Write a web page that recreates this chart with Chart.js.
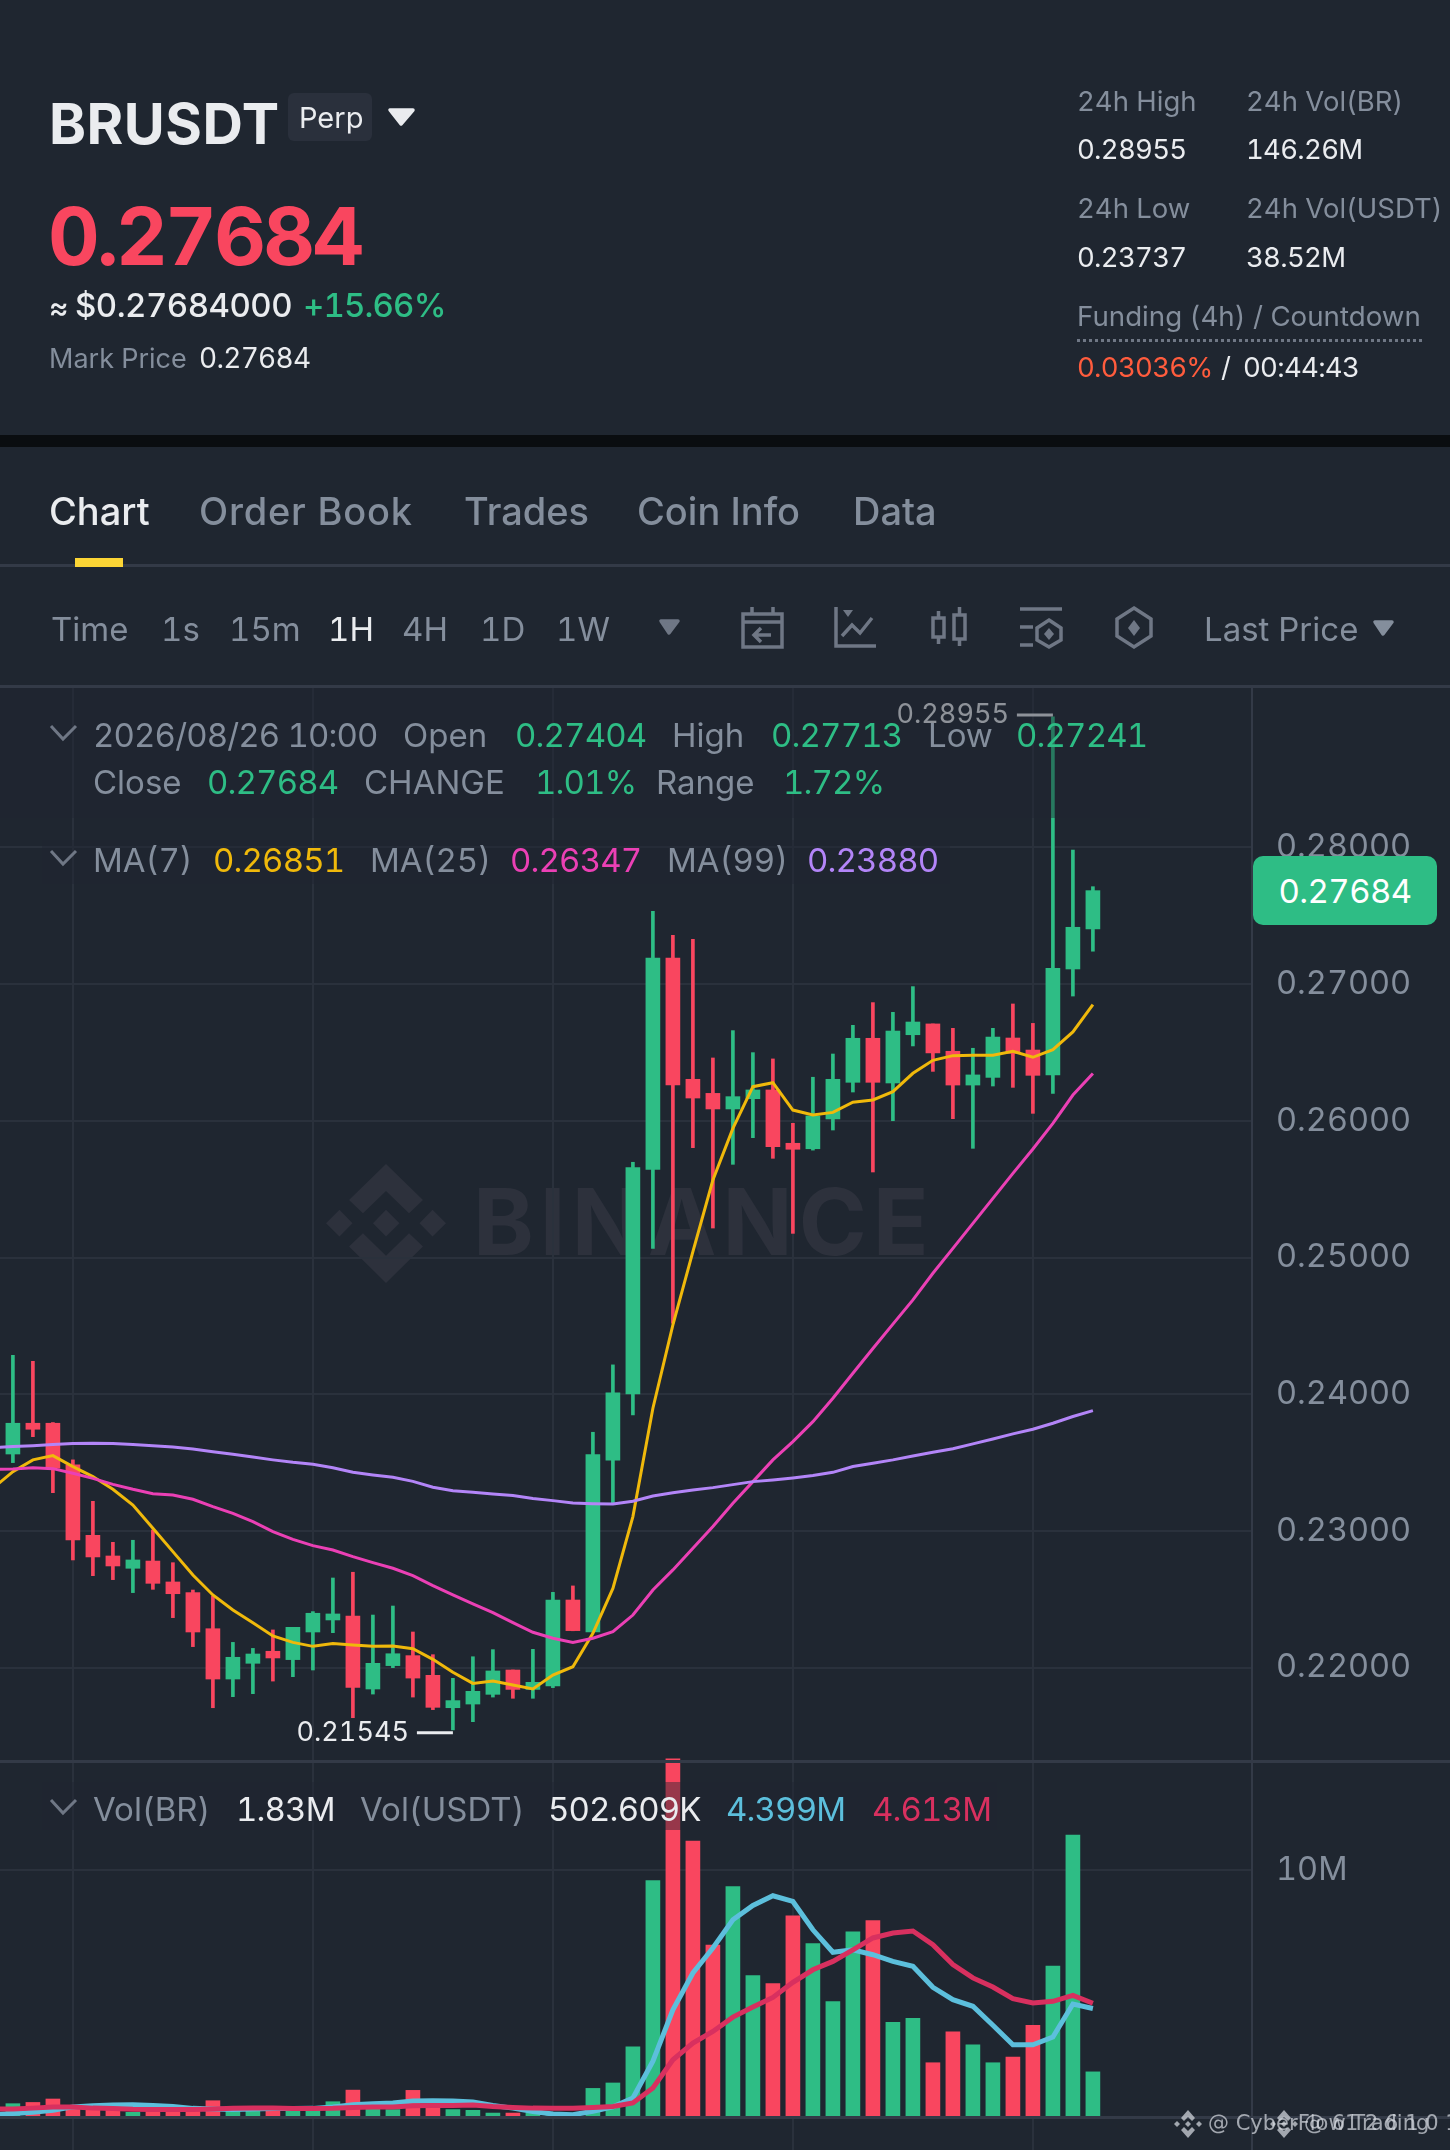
<!DOCTYPE html>
<html>
<head>
<meta charset="utf-8">
<title>BRUSDT</title>
<script src="https://cdn.jsdelivr.net/npm/chart.js@4"></script>
<style>
html, body { margin: 0; padding: 0; background: #1f2630; }
body { position: relative; width: 1450px; height: 2150px; overflow: hidden; font-family: Inter, sans-serif; font-variant-numeric: tabular-nums; }
.t { position: absolute; white-space: nowrap; line-height: 1; z-index: 5; }
.line { position: absolute; left: 0; width: 1450px; background: #333a47; z-index: 3; }
.dim { position: absolute; background: rgba(31, 38, 48, 0.45); z-index: 4; }
canvas { position: absolute; left: 0; z-index: 2; }
#priceChart { top: 686px; }
#volChart { top: 1752px; }
#band { position: absolute; left: 0; top: 435px; width: 1450px; height: 12px; background: #0a0d10; }
#perp { position: absolute; left: 288px; top: 93px; width: 84px; height: 48px; border-radius: 6px; background: #2a303c; }
#tabBar { position: absolute; left: 75px; top: 558px; width: 48px; height: 9px; background: #fcd535; z-index: 4; }
#dots { position: absolute; left: 1077px; top: 339px; width: 345px; border-top: 3px dotted #6f7785; }
#axisLine { position: absolute; left: 1251px; top: 686px; width: 2px; height: 1464px; background: #333a47; z-index: 3; }
#lastPrice { position: absolute; left: 1253px; top: 856px; width: 184px; height: 69px; border-radius: 10px; background: #2ebd85; z-index: 5;
  color: #fff; font-size: 33px; line-height: 70px; text-align: center; letter-spacing: -0.6px; }
#icons { position: absolute; left: 0; top: 0; z-index: 5; }
#logo { position: absolute; left: 326px; top: 1164px; z-index: 1; }
#wm { position: absolute; left: 473px; top: 1176px; font-size: 92px; line-height: 92px; font-weight: 700; letter-spacing: 6px; color: #2d313c; z-index: 1; }
.tag { position: absolute; font-family: "DejaVu Sans", sans-serif; font-size: 21px; line-height: 1; color: rgba(214, 218, 224, 0.72); white-space: nowrap; z-index: 6; }
</style>
</head>
<body>
<div id="band"></div>
<div id="perp"></div>
<div id="dots"></div>
<div id="tabBar"></div>
<div class="line" style="top:564px;height:3px"></div>
<div class="line" style="top:685px;height:3px"></div>
<div class="line" style="top:1760px;height:3px"></div>
<div class="line" style="top:2116px;height:3px"></div>
<div id="axisLine"></div>
<svg id="logo" width="120" height="119" viewBox="107 132 276 358" preserveAspectRatio="none" fill="#2d313c">
  <polygon points="245,132 330,240 298,280 245,213 192,280 160,240"/>
  <polygon points="107,310 138,270 168,310 138,350"/>
  <polygon points="215,310 245,270 276,310 245,350"/>
  <polygon points="322,310 352,270 383,310 352,350"/>
  <polygon points="245,490 160,380 192,340 245,408 298,340 330,380"/>
</svg>
<div id="wm">BINANCE</div>
<canvas id="priceChart" width="1450" height="1076"></canvas>
<canvas id="volChart" width="1450" height="398"></canvas>
<div class="dim" style="left:0;top:688px;width:1150px;height:130px"></div>
<div class="dim" style="left:42px;top:840px;width:908px;height:44px"></div>
<div class="dim" style="left:42px;top:1782px;width:955px;height:48px"></div>
<div id="lastPrice">0.27684</div>

<svg id="icons" width="1450" height="2150" fill="none" stroke="#6f7785" stroke-width="3.5">
  <!-- carets -->
  <polygon points="390,110 413,110 401,124" fill="#eaecef" stroke="#eaecef" stroke-linejoin="round"/>
  <polygon points="661,621 678,621 669,633" fill="#6f7785" stroke="#6f7785" stroke-linejoin="round"/>
  <polygon points="1375,622 1392,622 1383,634" fill="#848e9c" stroke="#848e9c" stroke-linejoin="round"/>
  <!-- calendar -->
  <rect x="743" y="614" width="39" height="33"/>
  <path d="M752 607V614M773 607V614M743 622H782M771 635H754M761 628L754 635L761 642"/>
  <!-- line chart -->
  <path d="M836 607V646H876M842 636L852 625L860 633L872 618"/>
  <polygon points="843,610 853,610 848,617" fill="#6f7785" stroke="none"/>
  <!-- candles -->
  <rect x="933" y="618" width="11" height="19"/>
  <rect x="954" y="615" width="11" height="24"/>
  <path d="M938.5 611V618M938.5 637V644M959.5 607V615M959.5 639V646"/>
  <!-- depth settings -->
  <path d="M1020 609H1062M1020 627H1033M1020 645H1033"/>
  <polygon points="1049,620 1061,628 1061,640 1049,647 1037,640 1037,628"/>
  <polygon points="1049,628 1054,634 1049,640 1044,634" fill="#6f7785" stroke="none"/>
  <!-- hexagon -->
  <polygon points="1134,608 1151,619 1151,636 1134,647 1117,636 1117,619"/>
  <polygon points="1134,620 1140,628 1134,636 1128,628" fill="#6f7785" stroke="none"/>
  <!-- legend chevrons -->
  <path d="M51 726L63 739L76 726M51 851L63 864L76 851M51 1800L63 1813L76 1800" stroke-width="3"/>
</svg>

<script>
// one candle every 20px, index 0 is the first candle fully on screen
const opens = [0.23563,0.23788,0.23788,0.23483,0.22968,0.22817,0.22727,0.2278,0.22627,0.22549,0.22285,0.21917,0.22032,0.2212,0.22059,0.22261,0.22349,0.22378,0.21844,0.22015,0.22088,0.21944,0.21707,0.21734,0.21805,0.21983,0.21841,0.21866,0.22495,0.22261,0.23517,0.24002,0.25645,0.27191,0.26304,0.26201,0.26087,0.26162,0.26226,0.25836,0.25796,0.26014,0.26282,0.26604,0.26277,0.2663,0.26709,0.26509,0.26262,0.26318,0.26606,0.26518,0.26336,0.27111,0.27404];
const highs = [0.24285,0.24241,0.23793,0.2352,0.23217,0.22917,0.22932,0.23007,0.22768,0.22568,0.22524,0.22185,0.22141,0.22276,0.22295,0.2241,0.22656,0.22698,0.22385,0.22451,0.22261,0.22095,0.21922,0.2208,0.22132,0.21983,0.22134,0.22551,0.22598,0.23722,0.24215,0.25697,0.27533,0.27357,0.27328,0.2646,0.2666,0.26499,0.26453,0.25982,0.26319,0.26489,0.26699,0.26865,0.26794,0.26982,0.26709,0.26677,0.26531,0.26677,0.26855,0.26713,0.28955,0.27981,0.27713];
const lows = [0.235,0.2369,0.2328,0.22788,0.22673,0.22644,0.22549,0.22573,0.22366,0.22154,0.21707,0.21788,0.2181,0.21902,0.21934,0.21983,0.22256,0.21634,0.21807,0.22,0.21785,0.21693,0.21545,0.21605,0.21785,0.21776,0.21776,0.21854,0.2227,0.22261,0.23202,0.23849,0.25067,0.2452,0.25804,0.25216,0.25682,0.25877,0.25726,0.25177,0.25786,0.25933,0.26211,0.25626,0.26001,0.26548,0.26362,0.26016,0.25799,0.26255,0.26245,0.26055,0.26201,0.26913,0.27241];
const closes = [0.23788,0.23744,0.23459,0.22934,0.2281,0.22744,0.22788,0.22617,0.22541,0.22261,0.21917,0.22076,0.221,0.22071,0.22295,0.22398,0.22393,0.21856,0.22032,0.22102,0.21924,0.2171,0.21759,0.21827,0.21976,0.21841,0.21893,0.22495,0.22271,0.23559,0.2401,0.25658,0.27191,0.26262,0.26167,0.26087,0.26177,0.26226,0.25811,0.25792,0.26036,0.26304,0.26604,0.26282,0.26657,0.26723,0.26497,0.26262,0.26336,0.26613,0.26494,0.26333,0.27116,0.27416,0.27684];

// moving averages start one candle earlier, off the left edge
const ma7 = [0.23312,0.23434,0.2352,0.23551,0.23471,0.23398,0.23305,0.2319,0.2302,0.22849,0.22678,0.22532,0.22422,0.22329,0.22232,0.22185,0.22156,0.22176,0.22166,0.22156,0.22159,0.22139,0.22061,0.21966,0.21885,0.21902,0.21873,0.21844,0.21946,0.22007,0.22251,0.2258,0.23105,0.23898,0.24507,0.25043,0.25567,0.25945,0.2625,0.26279,0.26079,0.26043,0.26062,0.26136,0.26153,0.26214,0.26348,0.26443,0.26477,0.2648,0.2648,0.26509,0.26465,0.26521,0.2665,0.26851];
const ma25 = [0.23451,0.23454,0.23463,0.23456,0.23422,0.23385,0.23341,0.23305,0.23273,0.23263,0.23232,0.23178,0.23129,0.23068,0.22995,0.22939,0.22893,0.22861,0.22812,0.22768,0.22727,0.22673,0.226,0.22532,0.22466,0.22402,0.22329,0.22259,0.22215,0.22185,0.22215,0.22263,0.22385,0.22568,0.22715,0.22873,0.23032,0.23202,0.23361,0.2352,0.23654,0.238,0.23971,0.24154,0.24335,0.24513,0.2469,0.24885,0.25067,0.2525,0.25433,0.25616,0.25794,0.25982,0.26189,0.26347];
const ma99 = [0.2361,0.23617,0.23624,0.23632,0.23639,0.23641,0.23639,0.23632,0.23624,0.23615,0.236,0.2358,0.23561,0.23541,0.2352,0.23502,0.23488,0.23463,0.23429,0.2341,0.23393,0.23363,0.2332,0.23295,0.23283,0.23271,0.23259,0.23237,0.23222,0.23205,0.232,0.23198,0.23217,0.23256,0.2328,0.233,0.23317,0.23339,0.23361,0.23373,0.23388,0.23405,0.23429,0.23471,0.23495,0.2352,0.23549,0.23576,0.23602,0.23637,0.23673,0.2371,0.23744,0.23788,0.23837,0.2388];

// volume in millions
const volumes = [0.54,0.59,0.73,0.46,0.43,0.43,0.19,0.35,0.36,0.36,0.66,0.23,0.3,0.4,0.27,0.27,0.62,1.09,0.32,0.3,1.08,0.43,0.3,0.27,0.16,0.16,0.16,0.05,0.05,1.16,1.38,2.85,9.59,14.52,11.19,6.97,9.34,5.73,5.41,8.16,7.03,4.68,7.51,7.96,3.84,4.0,2.2,3.45,2.93,2.2,2.43,3.72,6.12,11.43,1.83];
const volMaFast = [0.09,0.14,0.19,0.27,0.41,0.46,0.49,0.5,0.47,0.43,0.35,0.32,0.3,0.32,0.34,0.34,0.35,0.41,0.5,0.54,0.57,0.65,0.66,0.65,0.61,0.47,0.36,0.22,0.12,0.09,0.23,0.41,0.77,2.26,4.35,5.84,6.85,8.0,8.58,8.97,8.74,7.59,6.68,6.78,6.58,6.31,6.11,5.26,4.76,4.49,3.72,2.93,2.93,3.24,4.58,4.399];
const volMaSlow = [0.32,0.32,0.36,0.41,0.41,0.36,0.34,0.31,0.3,0.3,0.3,0.32,0.35,0.36,0.36,0.34,0.34,0.35,0.39,0.41,0.41,0.46,0.47,0.47,0.49,0.43,0.39,0.36,0.35,0.35,0.39,0.43,0.57,1.18,2.32,3.0,3.47,4.05,4.46,4.85,5.46,5.97,6.31,6.78,7.26,7.46,7.54,6.99,6.18,5.64,5.27,4.8,4.62,4.69,4.93,4.613];

const priceTicks = [0.22, 0.23, 0.24, 0.25, 0.26, 0.27, 0.28];
const volTicks = [0, 10];
const gridCandles = [3, 15, 27, 39, 51];

const GREEN = '#2ebd85';
const RED = '#f9465f';
const GRAY = '#848e9c';
const WHITE = '#eaecef';
const GRID = '#2a313c';
const FONT = 'Inter, sans-serif';

function addText(x, baseline, size, color, text, weight, spacing) {
    const el = document.createElement('div');
    el.className = 't';
    el.textContent = text;
    el.style.left = x + 'px';
    el.style.top = (baseline - size * 0.864) + 'px';
    el.style.fontSize = size + 'px';
    el.style.color = color;
    if (weight) el.style.fontWeight = weight;
    // tabular digits run a little wide, tighten the plain numbers
    if (spacing === undefined && /^[+$]?\d+[.\/:]/.test(text)) spacing = size * -0.026;
    if (spacing) el.style.letterSpacing = spacing + 'px';
    document.body.appendChild(el);
}

// header
addText(49, 144, 56, WHITE, 'BRUSDT', 700, 0.5);
addText(299, 128, 29, WHITE, 'Perp');
addText(48, 265, 80, RED, '0.27684', 700, -2.6);
addText(49, 318, 30, WHITE, '≈', 500);
addText(75, 318, 33, WHITE, '$0.27684000', 500, -0.5);
addText(303, 318, 33, GREEN, '+15.66%', 500);
addText(49, 368, 27, GRAY, 'Mark Price');
addText(199, 368, 28, WHITE, '0.27684');

addText(1077, 112, 27.5, GRAY, '24h High');
addText(1246, 112, 27.5, GRAY, '24h Vol(BR)');
addText(1077, 160, 27.5, WHITE, '0.28955');
addText(1246, 160, 27.5, WHITE, '146.26M');
addText(1077, 219, 27.5, GRAY, '24h Low');
addText(1246, 219, 27.5, GRAY, '24h Vol(USDT)');
addText(1077, 268, 27.5, WHITE, '0.23737');
addText(1246, 268, 27.5, WHITE, '38.52M');
addText(1077, 327, 27.7, GRAY, 'Funding (4h) / Countdown');
addText(1077, 378, 27.5, '#ff5c3d', '0.03036%');
addText(1221, 378, 27.5, WHITE, '/');
addText(1243, 378, 27.5, WHITE, '00:44:43');

// tabs
addText(49, 525, 38, WHITE, 'Chart', 500);
addText(199, 525, 38, GRAY, 'Order Book', 500, 0.8);
addText(464, 525, 38, GRAY, 'Trades', 500);
addText(637, 525, 38, GRAY, 'Coin Info', 500);
addText(853, 525, 38, GRAY, 'Data', 500);

// interval bar
addText(51, 642, 33, GRAY, 'Time');
addText(161, 642, 33, GRAY, '1s');
addText(229, 642, 33, GRAY, '15m');
addText(328, 642, 33, WHITE, '1H');
addText(402, 642, 33, GRAY, '4H');
addText(480, 642, 33, GRAY, '1D');
addText(556, 642, 33, GRAY, '1W');
addText(1204, 642, 33, GRAY, 'Last Price');

// candle legend
addText(93, 748, 33, GRAY, '2026/08/26 10:00');
addText(403, 748, 33, GRAY, 'Open');
addText(515, 748, 33, GREEN, '0.27404');
addText(672, 748, 33, GRAY, 'High');
addText(771, 748, 33, GREEN, '0.27713');
addText(928, 748, 33, GRAY, 'Low');
addText(1016, 748, 33, GREEN, '0.27241');
addText(93, 795, 33, GRAY, 'Close');
addText(207, 795, 33, GREEN, '0.27684');
addText(364, 795, 33, GRAY, 'CHANGE');
addText(535, 795, 33, GREEN, '1.01%');
addText(656, 795, 33, GRAY, 'Range');
addText(783, 795, 33, GREEN, '1.72%');
addText(93, 873, 33, GRAY, 'MA(7)');
addText(213, 873, 33, '#f0b90b', '0.26851');
addText(370, 873, 33, GRAY, 'MA(25)');
addText(510, 873, 33, '#eb40b5', '0.26347');
addText(667, 873, 33, GRAY, 'MA(99)');
addText(807, 873, 33, '#b385f8', '0.23880');

// volume legend
addText(93, 1822, 33, GRAY, 'Vol(BR)');
addText(236, 1822, 33, WHITE, '1.83M');
addText(360, 1822, 33, GRAY, 'Vol(USDT)');
addText(548, 1822, 33, WHITE, '502.609K');
addText(726, 1822, 33, '#5cbfdc', '4.399M');
addText(872, 1822, 33, '#d8305f', '4.613M');

// the two overlapping credits in the bottom corner
function addCredit(logoX, textX, text) {
    const svg = document.createElementNS('http://www.w3.org/2000/svg', 'svg');
    svg.setAttribute('viewBox', '0 0 28 28');
    svg.setAttribute('width', '28');
    svg.setAttribute('height', '28');
    svg.style.cssText = 'position:absolute;top:2110px;z-index:6;left:' + logoX + 'px';
    svg.innerHTML = '<g fill="rgba(214,218,224,0.72)"><polygon points="14,0 21,8 18,11 14,7 10,11 7,8"/><polygon points="0,14 3,11 6,14 3,17"/><polygon points="14,11 17,14 14,17 11,14"/><polygon points="22,14 25,11 28,14 25,17"/><polygon points="14,28 7,20 10,17 14,21 18,17 21,20"/></g>';
    document.body.appendChild(svg);
    const el = document.createElement('div');
    el.className = 'tag';
    el.style.left = textX + 'px';
    el.style.top = '2113px';
    el.textContent = text;
    document.body.appendChild(el);
}
addCredit(1174, 1208, '@ CyberFlow Trading');
addCredit(1270, 1304, '@ 61 2 6 1 0 1');

function isUp(i) {
    return closes[i] >= opens[i];
}

function candleColor(ctx) {
    return isUp(ctx.dataIndex) ? GREEN : RED;
}

const candleX = opens.map((_, i) => i);
const maX = ma7.map((_, i) => i - 1);

function toPoints(xs, ys) {
    return xs.map((x, i) => ({ x: x, y: ys[i] }));
}

function lineSet(xs, ys, color, width, order) {
    return {
        type: 'line',
        data: toPoints(xs, ys),
        borderColor: color,
        borderWidth: width,
        pointRadius: 0,
        tension: 0,
        order: order
    };
}

function setTicks(values) {
    return scale => {
        scale.ticks = values.map(v => ({ value: v }));
    };
}

function xAxis() {
    return {
        type: 'linear',
        offset: false,
        min: -0.645,
        max: 61.955,
        afterBuildTicks: setTicks(gridCandles),
        ticks: { display: false },
        border: { display: false },
        // bar charts shift the grid between ticks by default
        grid: { color: GRID, lineWidth: 2, drawTicks: false, offset: false }
    };
}

function yAxis(min, max, values, format) {
    return {
        position: 'right',
        min: min,
        max: max,
        afterBuildTicks: setTicks(values),
        afterFit: scale => {
            // the labels must not push the plot away from the canvas edges
            scale.width = 198;
            scale.paddingTop = 0;
            scale.paddingBottom = 0;
        },
        border: { display: false },
        grid: { color: GRID, lineWidth: 2, drawTicks: false },
        ticks: {
            color: GRAY,
            padding: 24,
            crossAlign: 'near',
            font: { family: FONT, size: 32.5 },
            callback: format
        }
    };
}

// high and low of the visible range, with the small dash pointing at the wick
const extremeLabels = {
    id: 'extremeLabels',
    afterDatasetsDraw(chart) {
        const { ctx, scales } = chart;
        const mark = (index, value, nudge) => {
            const x = scales.x.getPixelForValue(index);
            const y = scales.y.getPixelForValue(value) + nudge;
            ctx.save();
            ctx.strokeStyle = WHITE;
            ctx.lineWidth = 3;
            ctx.beginPath();
            ctx.moveTo(x - 36, y);
            ctx.lineTo(x, y);
            ctx.stroke();
            ctx.fillStyle = WHITE;
            ctx.font = '27px ' + FONT;
            ctx.textAlign = 'right';
            ctx.textBaseline = 'middle';
            ctx.fillText(value.toFixed(5), x - 44, y);
            ctx.restore();
        };
        const top = Math.max(...highs);
        const bottom = Math.min(...lows);
        mark(highs.indexOf(top), top, -2);
        mark(lows.indexOf(bottom), bottom, 3);
    }
};

new Chart(document.getElementById('priceChart'), {
    type: 'bar',
    data: {
        datasets: [
            lineSet(maX, ma99, '#b385f8', 3, 1),
            lineSet(maX, ma25, '#eb40b5', 3, 1),
            lineSet(maX, ma7, '#f0b90b', 3, 1),
            {
                data: candleX.map(i => ({ x: i, y: [opens[i], closes[i]] })),
                backgroundColor: candleColor,
                barThickness: 14,
                grouped: false,
                order: 2
            },
            {
                data: candleX.map(i => ({ x: i, y: [lows[i], highs[i]] })),
                backgroundColor: candleColor,
                barThickness: 3,
                grouped: false,
                order: 3
            }
        ]
    },
    options: {
        responsive: false,
        animation: false,
        devicePixelRatio: 1,
        layout: { padding: 0 },
        plugins: { legend: { display: false }, tooltip: { enabled: false } },
        scales: {
            x: xAxis(),
            y: yAxis(0.2131, 0.29181, priceTicks, v => v.toFixed(5))
        }
    },
    plugins: [extremeLabels]
});

new Chart(document.getElementById('volChart'), {
    type: 'bar',
    data: {
        datasets: [
            lineSet(maX, volMaSlow, '#d8305f', 5, 1),
            lineSet(maX, volMaFast, '#5cbfdc', 5, 2),
            {
                data: candleX.map(i => ({ x: i, y: volumes[i] })),
                backgroundColor: candleColor,
                barThickness: 14,
                grouped: false,
                order: 3
            }
        ]
    },
    options: {
        responsive: false,
        animation: false,
        devicePixelRatio: 1,
        layout: { padding: 0 },
        plugins: { legend: { display: false }, tooltip: { enabled: false } },
        scales: {
            x: xAxis(),
            y: yAxis(-1.338, 14.8, volTicks, v => (v ? v + 'M' : ''))
        }
    }
});
</script>
</body>
</html>
